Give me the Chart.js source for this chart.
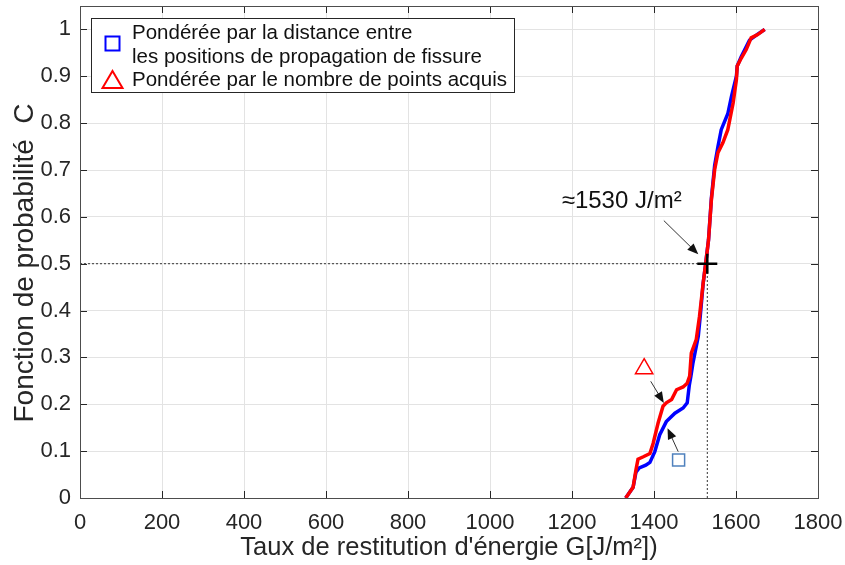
<!DOCTYPE html>
<html>
<head>
<meta charset="utf-8">
<script src="https://cdn.jsdelivr.net/npm/chart.js@4.4.0/dist/chart.umd.min.js"></script>
<style>
  body { margin: 0; background: #fff; }
  canvas { display: block; }
</style>
</head>
<body>
<canvas id="cdfChart" width="845" height="565"></canvas>
<script>
// Courbe pondérée par la distance entre positions de fissure (bleu)
const blueG = [1331, 1349, 1356, 1364, 1380, 1390, 1402, 1414, 1430, 1451, 1471, 1481, 1486, 1490, 1495, 1508, 1513, 1520, 1526, 1533, 1540, 1548, 1556, 1564, 1580, 1589, 1601, 1603, 1613, 1633, 1653, 1670];
const blueC = [0, 0.023, 0.055, 0.064, 0.07, 0.076, 0.099, 0.135, 0.163, 0.181, 0.192, 0.203, 0.24, 0.26, 0.288, 0.345, 0.39, 0.459, 0.5, 0.551, 0.64, 0.71, 0.75, 0.786, 0.82, 0.857, 0.9, 0.922, 0.942, 0.977, 0.99, 1.0];

// Courbe pondérée par le nombre de points acquis (rouge)
const redG = [1331, 1349, 1356, 1361, 1374, 1390, 1398, 1410, 1422, 1430, 1443, 1455, 1471, 1481, 1487, 1491, 1503, 1511, 1520, 1526, 1533, 1540, 1548, 1556, 1568, 1580, 1593, 1601, 1603, 1613, 1625, 1637, 1653, 1670];
const redC = [0, 0.023, 0.06, 0.083, 0.088, 0.095, 0.117, 0.16, 0.196, 0.203, 0.21, 0.231, 0.237, 0.245, 0.26, 0.309, 0.338, 0.388, 0.459, 0.5, 0.551, 0.637, 0.701, 0.737, 0.758, 0.786, 0.843, 0.893, 0.922, 0.939, 0.957, 0.982, 0.989, 1.0];

const xTicks = [0, 200, 400, 600, 800, 1000, 1200, 1400, 1600, 1800];
const xTickLabels = ['0', '200', '400', '600', '800', '1000', '1200', '1400', '1600', '1800'];
const yTicks = [0, 0.1, 0.2, 0.3, 0.4, 0.5, 0.6, 0.7, 0.8, 0.9, 1];
const yTickLabels = ['0', '0.1', '0.2', '0.3', '0.4', '0.5', '0.6', '0.7', '0.8', '0.9', '1'];

// Valeur médiane et annotations
const medianG = 1530;
const medianC = 0.5;
const medianLabel = '≈1530 J/m²';
const medianLabelAt = [1175, 0.632];
const triangleMark = [1376, 0.276];
const squareMark = [1460, 0.081];
const arrowLines = [
    [[1424, 0.592], [1508, 0.52]],
    [[1392, 0.249], [1424, 0.203]],
    [[1459, 0.099], [1433, 0.149]]
];

const legendLines = [
    ['Pondérée par la distance entre', 'les positions de propagation de fissure'],
    ['Pondérée par le nombre de points acquis']
];
const xTitle = "Taux de restitution d'énergie G[J/m²])";
const yTitle = 'Fonction de probabilité  C';

const FONT = '"Liberation Sans", Arial, Helvetica, sans-serif';
const INK = '#262626';

function toPoints(xs, ys) {
    return xs.map((x, i) => ({ x: x, y: ys[i] }));
}

function drawArrow(ctx, x1, y1, x2, y2) {
    const ang = Math.atan2(y2 - y1, x2 - x1);
    const head = 11, half = 4.5;
    ctx.beginPath();
    ctx.moveTo(x1, y1);
    ctx.lineTo(x2 - Math.cos(ang) * head * 0.8, y2 - Math.sin(ang) * head * 0.8);
    ctx.stroke();
    ctx.beginPath();
    ctx.moveTo(x2, y2);
    ctx.lineTo(x2 - Math.cos(ang) * head - Math.sin(ang) * half, y2 - Math.sin(ang) * head + Math.cos(ang) * half);
    ctx.lineTo(x2 - Math.cos(ang) * head + Math.sin(ang) * half, y2 - Math.sin(ang) * head - Math.cos(ang) * half);
    ctx.closePath();
    ctx.fill();
}

function noPadding(s) {
    s.paddingLeft = 0; s.paddingRight = 0; s.paddingTop = 0; s.paddingBottom = 0;
}

// Cadre, graduations intérieures, flèches, texte et légende (style MATLAB)
const matlabFrame = {
    id: 'matlabFrame',
    afterDatasetsDraw(chart) {
        const ctx = chart.ctx;
        const a = chart.chartArea;
        const xs = chart.scales.x, ys = chart.scales.y;
        ctx.save();

        // ticks inside on all four sides
        ctx.strokeStyle = INK;
        ctx.lineWidth = 1;
        ctx.beginPath();
        xTicks.forEach(v => {
            const px = Math.round(xs.getPixelForValue(v)) + 0.5;
            ctx.moveTo(px, a.bottom); ctx.lineTo(px, a.bottom - 7);
            ctx.moveTo(px, a.top); ctx.lineTo(px, a.top + 7);
        });
        yTicks.forEach(v => {
            const py = Math.round(ys.getPixelForValue(v)) + 0.5;
            ctx.moveTo(a.left, py); ctx.lineTo(a.left + 7, py);
            ctx.moveTo(a.right, py); ctx.lineTo(a.right - 7, py);
        });
        ctx.stroke();
        ctx.strokeStyle = '#4d4d4d';
        ctx.strokeRect(a.left + 0.5, a.top + 0.5, a.right - a.left, a.bottom - a.top);

        // flèches
        ctx.strokeStyle = '#333';
        ctx.fillStyle = '#111';
        ctx.lineWidth = 1;
        arrowLines.forEach(([s, e]) => {
            drawArrow(ctx, xs.getPixelForValue(s[0]), ys.getPixelForValue(s[1]),
                xs.getPixelForValue(e[0]), ys.getPixelForValue(e[1]));
        });

        // texte médiane
        ctx.fillStyle = '#111';
        ctx.font = '24px ' + FONT;
        ctx.textAlign = 'left';
        ctx.textBaseline = 'middle';
        ctx.fillText(medianLabel, xs.getPixelForValue(medianLabelAt[0]), ys.getPixelForValue(medianLabelAt[1]));

        // légende
        const lx = 91.5, ly = 18.5, lw = 423, lh = 74;
        ctx.fillStyle = '#fff';
        ctx.fillRect(lx, ly, lw, lh);
        ctx.strokeStyle = INK;
        ctx.lineWidth = 1;
        ctx.strokeRect(lx, ly, lw, lh);
        ctx.fillStyle = '#111';
        ctx.font = '20.5px ' + FONT;
        ctx.fillText(legendLines[0][0], 132, 33);
        ctx.fillText(legendLines[0][1], 132, 57);
        ctx.fillText(legendLines[1][0], 132, 80);
        ctx.lineWidth = 2;
        ctx.strokeStyle = '#0000ff';
        ctx.strokeRect(105.5, 36.5, 14, 14);
        ctx.strokeStyle = '#ff0000';
        ctx.beginPath();
        ctx.moveTo(112.5, 71); ctx.lineTo(122.5, 88); ctx.lineTo(102.5, 88);
        ctx.closePath();
        ctx.stroke();

        // titres des axes
        ctx.fillStyle = INK;
        ctx.font = '25.5px ' + FONT;
        ctx.textAlign = 'center';
        ctx.fillText(xTitle, (a.left + a.right) / 2, 548);
        ctx.save();
        ctx.translate(25, 263);
        ctx.rotate(-Math.PI / 2);
        ctx.font = '28px ' + FONT;
        ctx.fillText(yTitle, 0, 0);
        ctx.restore();

        ctx.restore();
    }
};

const ctx = document.getElementById('cdfChart').getContext('2d');
new Chart(ctx, {
    type: 'scatter',
    data: {
        datasets: [{
            data: [{ x: medianG, y: medianC }],
            order: 0,
            pointStyle: 'cross', pointRadius: 10, borderColor: '#000', borderWidth: 2.5
        }, {
            data: [{ x: triangleMark[0], y: triangleMark[1] }],
            order: 0,
            pointStyle: 'triangle', pointRadius: 10, borderColor: '#ff0000', backgroundColor: 'rgba(0,0,0,0)', borderWidth: 1.5
        }, {
            data: [{ x: squareMark[0], y: squareMark[1] }],
            order: 0,
            pointStyle: 'rect', pointRadius: 8.5, borderColor: '#4f81bd', backgroundColor: 'rgba(0,0,0,0)', borderWidth: 1.5
        }, {
            label: legendLines[1][0],
            data: toPoints(redG, redC),
            order: 1,
            showLine: true, borderColor: '#ff0000', borderWidth: 3.5, pointRadius: 0, tension: 0
        }, {
            label: legendLines[0].join(' '),
            data: toPoints(blueG, blueC),
            order: 2,
            showLine: true, borderColor: '#0000ff', borderWidth: 3.5, pointRadius: 0, tension: 0
        }, {
            data: [{ x: 0, y: medianC }, { x: medianG, y: medianC }],
            order: 3,
            showLine: true, borderColor: '#333', borderWidth: 1, borderDash: [2, 2], pointRadius: 0
        }, {
            data: [{ x: medianG, y: 0 }, { x: medianG, y: medianC }],
            order: 3,
            showLine: true, borderColor: '#333', borderWidth: 1, borderDash: [2, 2], pointRadius: 0
        }]
    },
    options: {
        responsive: false,
        animation: false,
        layout: { autoPadding: false, padding: { top: 6, right: 27, left: 0, bottom: 0 } },
        plugins: { legend: { display: false }, tooltip: { enabled: false } },
        scales: {
            x: {
                type: 'linear', min: 0, max: 1800,
                afterBuildTicks: s => { s.ticks = xTicks.map(v => ({ value: v })); },
                afterFit: s => { s.height = 67; noPadding(s); },
                grid: { color: '#e3e3e3', drawTicks: false },
                border: { display: false },
                ticks: {
                    padding: 12, color: INK, font: { family: FONT, size: 22 },
                    maxRotation: 0, callback: (v, i) => xTickLabels[i]
                }
            },
            y: {
                type: 'linear', min: 0, max: 1.05,
                afterBuildTicks: s => { s.ticks = yTicks.map(v => ({ value: v })); },
                afterFit: s => { s.width = 80; noPadding(s); },
                grid: { color: '#e3e3e3', drawTicks: false },
                border: { display: false },
                ticks: {
                    padding: 9, color: INK, font: { family: FONT, size: 22 },
                    callback: (v, i) => yTickLabels[i]
                }
            }
        }
    },
    plugins: [matlabFrame]
});
</script>
</body>
</html>
